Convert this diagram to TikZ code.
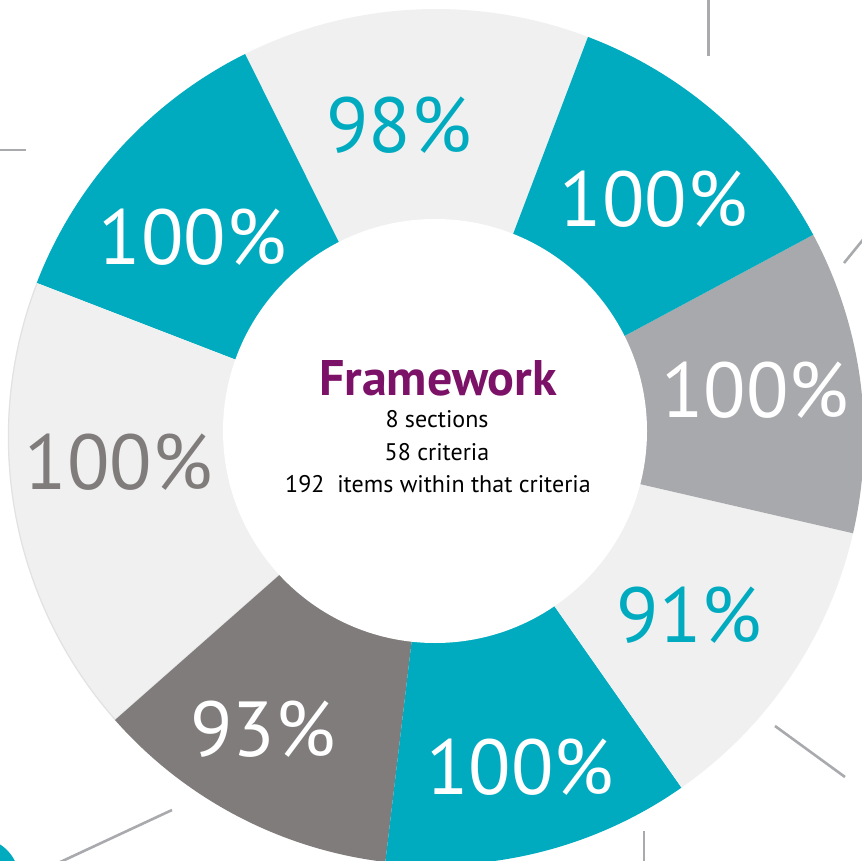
\documentclass[tikz,border=0pt]{standalone}
\usepackage{fontspec}
\setmainfont{PT Sans}
\definecolor{teal1}{HTML}{00ABBF}
\definecolor{light1}{HTML}{F0F0F0}
\definecolor{edge1}{HTML}{E2E2E3}
\definecolor{gray1}{HTML}{A8A9AC}
\definecolor{dark1}{HTML}{807C7B}
\definecolor{purple1}{HTML}{7C1268}
\definecolor{line1}{HTML}{A9AAAD}
\tikzset{
  pct/.style={inner sep=0pt, font=\fontsize{78}{80}\selectfont},
  sub/.style={inner sep=0pt, anchor=base, font=\fontsize{24}{26}\selectfont},
  thin1/.style={draw=line1, line width=2.6pt},
}
\newcommand\wedgeseg[3]{\fill[#3] (C) -- ([shift={(C)}]#1:428) arc[start angle=#1,end angle=#2,radius=428] -- cycle;}
\begin{document}
\begin{tikzpicture}[x=1pt,y=1pt]
\useasboundingbox (0,0) rectangle (862,-861);
\fill[white] (0,0) rectangle (862,-861);
\begin{scope}
\clip (0,0) rectangle (862,-861);
\coordinate (C) at (436,-437);
\wedgeseg{69.2}{116.5}{light1}
\wedgeseg{116.5}{158.9}{teal1}
\wedgeseg{158.9}{221.4}{light1}
\draw[edge1, line width=1.2pt] ([shift={(C)}]158.9:427.6) arc[start angle=158.9,end angle=221.4,radius=427.6] -- (C);
\wedgeseg{221.4}{263.2}{dark1}
\wedgeseg{263.2}{305}{teal1}
\wedgeseg{305}{347}{light1}
\wedgeseg{-13}{28.2}{gray1}
\wedgeseg{28.2}{69.2}{teal1}
\fill[white] (435,-431) circle[radius=212];
% outer decorative lines
\coordinate (l1a) at (0,-150); \coordinate (l1b) at (26,-150);
\draw[thin1] (l1a) -- (l1b);
\coordinate (l2a) at (708.5,0); \coordinate (l2b) at (708.5,-56);
\draw[thin1] (l2a) -- (l2b);
\coordinate (l3a) at (844,-263); \coordinate (l3b) at (866,-236);
\draw[thin1] (l3a) -- (l3b);
\coordinate (l4a) at (775,-726); \coordinate (l4b) at (845,-777);
\draw[thin1] (l4a) -- (l4b);
\coordinate (l5a) at (644,-831); \coordinate (l5b) at (644,-865);
\draw[thin1] (l5a) -- (l5b);
\coordinate (l6a) at (172,-810); \coordinate (l6b) at (56,-864);
\draw[thin1] (l6a) -- (l6b);
\fill[teal1] (-22,-879) circle[radius=41];
\end{scope}
% percentages
\node[pct, text=teal1] (p98) at (399,-125) {98\%};
\node[pct, text=white] (p100a) at (192.5,-237) {100\%};
\node[pct, text=white] (p100b) at (653.5,-199) {100\%};
\node[pct, text=white] (p100c) at (755,-390.5) {100\%};
\node[pct, text=dark1] (p100d) at (118.5,-462.5) {100\%};
\node[pct, text=teal1] (p91) at (689.5,-615.5) {91\%};
\node[pct, text=white] (p100e) at (520,-767.5) {100\%};
\node[pct, text=white] (p93) at (263,-729.5) {93\%};
% centre text
\node[inner sep=0pt, anchor=base, text=purple1, font=\fontsize{50}{52}\selectfont\bfseries] (title) at (438,-395) {Framework};
\node[sub] (s1) at (437,-427) {8 sections};
\node[sub] (s2) at (437,-460) {58 criteria};
\node[sub] (s3) at (438,-492) {192\ \ items within that criteria};
\end{tikzpicture}
\end{document}
